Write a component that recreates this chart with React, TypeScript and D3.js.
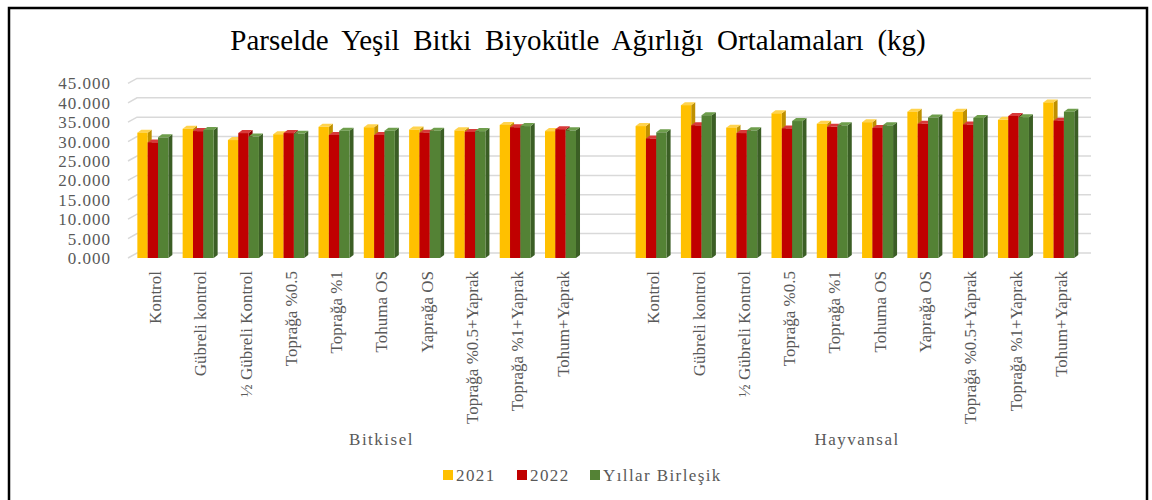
import React, { useRef, useEffect } from 'react';
import * as d3 from 'd3';

const categories = [
  'Kontrol',
  'Gübreli kontrol',
  '½ Gübreli Kontrol',
  'Toprağa %0.5',
  'Toprağa %1',
  'Tohuma OS',
  'Yaprağa OS',
  'Toprağa %0.5+Yaprak',
  'Toprağa %1+Yaprak',
  'Tohum+Yaprak',
];
const groups = ['Bitkisel', 'Hayvansal'];
const seriesNames = ['2021', '2022', 'Yıllar Birleşik'];

const bitkisel2021 = [32.3, 33.3, 30.4, 31.9, 33.8, 33.7, 33.1, 32.9, 34.3, 32.7];
const bitkisel2022 = [29.8, 32.7, 32.2, 32.2, 31.7, 31.7, 32.3, 32.5, 33.7, 33.2];
const bitkiselBirlesik = [31.1, 33.0, 31.3, 32.0, 32.8, 32.8, 32.8, 32.7, 34.0, 32.9];
const hayvansal2021 = [34.0, 39.4, 33.6, 37.3, 34.6, 35.0, 37.7, 37.7, 35.6, 40.1];
const hayvansal2022 = [30.8, 34.2, 32.2, 33.4, 33.8, 33.5, 34.6, 34.4, 36.6, 35.4];
const hayvansalBirlesik = [32.4, 36.8, 32.9, 35.3, 34.2, 34.2, 36.2, 36.1, 36.3, 37.7];

const yTicks = [0, 5, 10, 15, 20, 25, 30, 35, 40, 45];

// front, side, top
const palette = [
  ['#FFC000', '#BF9000', '#FFD34D'],
  ['#C00000', '#8A0000', '#D83A3A'],
  ['#548235', '#3B5E25', '#6E9E4C'],
];

const App = () => {
  const ref = useRef(null);

  useEffect(() => {
    const svg = d3.select(ref.current);
    svg.selectAll('*').remove();

    const font = '"Liberation Serif", "Times New Roman", serif';
    const grey = '#595959';

    // frame
    svg.append('rect')
      .attr('x', 9).attr('y', 8).attr('width', 1138).attr('height', 510)
      .attr('fill', '#fff').attr('stroke', '#000').attr('stroke-width', 2.5);

    svg.append('text')
      .attr('x', 578).attr('y', 50)
      .attr('text-anchor', 'middle')
      .style('font-family', font).style('font-size', '29px')
      .style('word-spacing', '6.5px')
      .attr('fill', '#000')
      .text('Parselde Yeşil Bitki Biyokütle Ağırlığı Ortalamaları (kg)');

    // slots: 10 + one empty + 10
    const slots = d3.range(21);
    const x = d3.scaleBand().domain(slots).range([132.4, 1083.6]).padding(0);
    const y = d3.scaleLinear().domain([0, 45]).range([258, 83.4]);

    const wallDx = 9, wallDy = -5;
    const floorLeft = 128, floorRight = 1082;

    // gridlines on side wall + back wall
    yTicks.forEach((t) => {
      const yy = y(t);
      svg.append('path')
        .attr('d', `M${floorLeft},${yy}L${floorLeft + wallDx},${yy + wallDy}L${floorRight + wallDx},${yy + wallDy}`)
        .attr('fill', 'none').attr('stroke', '#D9D9D9').attr('stroke-width', 1.5);
    });

    // y labels
    svg.append('g').selectAll('text').data(yTicks).join('text')
      .attr('x', 111).attr('y', (d) => y(d))
      .attr('dy', '0.35em')
      .attr('text-anchor', 'end')
      .style('font-family', font).style('font-size', '17px')
      .style('letter-spacing', '1px')
      .attr('fill', grey)
      .text((d) => d3.format('.3f')(d));

    const data = [
      [bitkisel2021, bitkisel2022, bitkiselBirlesik],
      [hayvansal2021, hayvansal2022, hayvansalBirlesik],
    ];

    const inner = d3.scaleBand().domain([0, 1, 2]).range([-17.7, 13.3]).padding(0);
    const dx = 4, dy = -3;

    const bars = svg.append('g');
    data.forEach((grp, gi) => {
      categories.forEach((cat, ci) => {
        const slot = gi * 11 + ci;
        const cx = x(slot) + x.bandwidth() / 2;
        grp.forEach((vals, si) => {
          const x0 = cx + inner(si);
          const w = inner.bandwidth();
          const y0 = y(vals[ci]);
          const yb = y(0);
          const [front, side, top] = palette[si];
          // side face
          bars.append('path')
            .attr('d', `M${x0 + w},${yb}L${x0 + w + dx},${yb + dy}L${x0 + w + dx},${y0 + dy}L${x0 + w},${y0}Z`)
            .attr('fill', side);
          // top face
          bars.append('path')
            .attr('d', `M${x0},${y0}L${x0 + dx},${y0 + dy}L${x0 + w + dx},${y0 + dy}L${x0 + w},${y0}Z`)
            .attr('fill', top);
          bars.append('rect')
            .attr('x', x0).attr('y', y0)
            .attr('width', w).attr('height', yb - y0)
            .attr('fill', front);
        });

        svg.append('text')
          .attr('transform', `translate(${cx},271) rotate(-90)`)
          .attr('text-anchor', 'end')
          .attr('dy', '0.35em')
          .style('font-family', font).style('font-size', '17px')
          .attr('fill', grey)
          .text(cat);
      });
    });

    // group labels
    const groupCenters = [x(5) + x.bandwidth() / 2, (x(11) + x(20) + x.bandwidth()) / 2];
    groups.forEach((g, i) => {
      svg.append('text')
        .attr('x', groupCenters[i]).attr('y', 445)
        .attr('text-anchor', 'middle')
        .style('font-family', font).style('font-size', '17px')
        .style('letter-spacing', '1.5px')
        .attr('fill', grey)
        .text(g);
    });

    // legend
    const legendX = [443, 517, 590];
    seriesNames.forEach((s, i) => {
      svg.append('rect')
        .attr('x', legendX[i]).attr('y', 470)
        .attr('width', 10).attr('height', 10)
        .attr('fill', palette[i][0]);
      svg.append('text')
        .attr('x', legendX[i] + 13).attr('y', 481)
        .style('font-family', font).style('font-size', '17px')
        .style('letter-spacing', '1.4px')
        .attr('fill', grey)
        .text(s);
    });
  }, []);

  return (
    <svg
      ref={ref}
      width={1152}
      height={500}
      style={{ position: 'absolute', left: 0, top: 0, background: '#fff' }}
    />
  );
};

export default App;
